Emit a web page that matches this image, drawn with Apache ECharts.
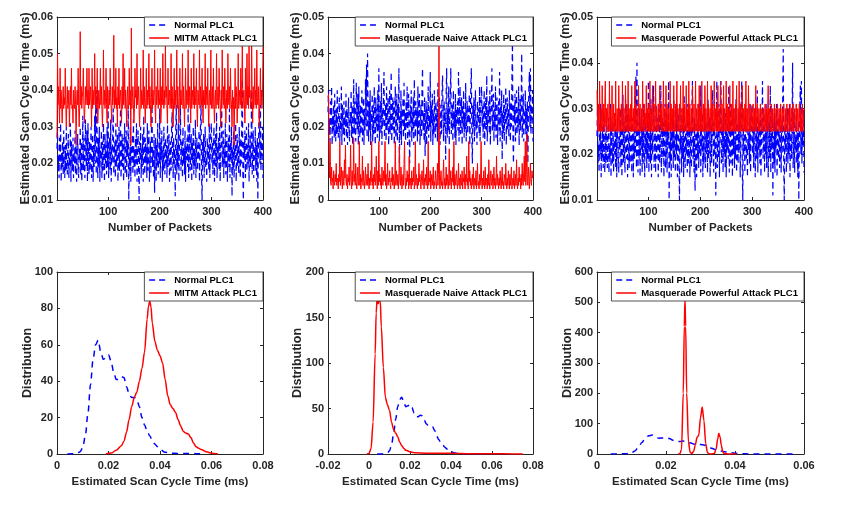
<!DOCTYPE html>
<html><head><meta charset="utf-8">
<script src="https://cdn.jsdelivr.net/npm/echarts@6/dist/echarts.min.js"></script>
<style>html,body{margin:0;padding:0;background:#fff}#c{width:844px;height:509px}</style>
</head><body><div id="c"></div>
<script>
// ---------- DATA (scan cycle times in microseconds, packet index 1..400) ----------
const normalUs = [
24,30,18,22,16,27,20,31,15,23,19,26,17,29,21,16,25,18,30,20,
17,24,28,16,22,19,31,15,26,21,18,27,16,23,20,29,17,25,15,22,
28,19,16,24,21,30,17,26,15,22,33,18,27,20,16,32,23,19,29,15,
31,21,17,26,18,24,30,16,22,28,15,25,19,33,20,37,17,40,23,16,
27,19,30,15,24,21,29,16,26,18,31,22,15,28,20,25,17,30,19,36,
16,23,27,18,32,15,25,20,29,35,17,22,26,16,31,19,24,28,15,21,
30,18,25,35,16,22,28,19,27,15,24,31,17,20,29,16,26,22,36,10,
23,18,30,15,25,21,28,17,32,19,24,16,27,20,31,15,22,29,18,10,
26,21,30,16,24,19,28,15,33,22,17,27,20,25,16,31,18,23,29,15,
21,26,17,30,36,19,24,16,28,12,22,27,15,25,19,31,17,23,20,35,
16,26,21,29,15,24,18,30,22,17,27,20,25,16,32,19,23,28,15,21,
26,18,30,34,22,16,27,20,24,11,29,36,17,25,19,31,15,23,28,36,
18,22,26,16,30,20,24,17,29,15,25,21,27,19,35,16,23,31,18,22,
28,15,26,20,30,17,24,19,32,16,22,27,18,25,21,29,15,23,31,36,
17,10,26,20,28,16,24,30,19,22,15,27,21,25,18,31,16,23,29,31,
20,26,17,24,30,15,22,28,19,34,16,25,21,27,18,30,15,23,26,36,
19,22,29,16,25,20,31,17,24,28,15,22,27,19,35,16,26,21,30,11,
24,18,29,16,26,21,31,15,23,28,19,25,17,30,22,16,27,20,33,43,
17,10,26,21,29,16,24,30,18,25,20,31,15,23,28,19,26,40,17,22,
29,16,24,21,30,18,25,15,27,10,23,31,35,20,36,18,26,22,30,16];

const mitmUs = [
27,50,36,41,36,31,46,35,40,36,31,36,41,35,38,36,46,36,30,36,
41,35,36,40,30,36,41,36,46,35,36,31,40,36,35,41,36,25,36,40,
36,46,35,30,36,56,36,41,35,38,40,46,36,31,35,41,36,38,46,36,
40,35,46,36,38,41,36,30,46,35,40,36,38,50,36,41,35,36,46,31,
36,40,35,38,46,36,41,35,30,36,51,36,40,35,38,46,36,31,41,36,
35,40,36,46,38,35,31,41,36,38,55,35,40,36,46,35,38,30,41,36,
46,35,38,40,36,31,41,35,50,36,38,46,35,40,36,30,38,41,35,36,
46,36,40,25,57,35,38,41,36,31,35,46,38,40,35,50,36,38,41,35,
30,36,46,35,40,38,36,51,35,41,36,31,38,46,35,40,36,38,50,35,
41,36,30,38,46,35,40,36,38,51,35,31,41,36,38,46,35,40,36,38,
46,31,35,41,36,50,38,35,40,36,53,38,41,35,31,46,36,38,40,35,
38,50,35,41,36,30,38,46,35,40,36,38,51,35,41,36,31,38,46,35,
40,36,38,50,35,41,36,30,38,46,35,40,36,38,51,35,36,41,38,31,
46,35,40,38,36,50,35,41,38,36,46,35,30,40,38,36,51,35,41,38,
36,46,35,31,40,38,36,50,35,41,38,36,46,35,30,38,40,36,51,35,
38,41,35,46,36,31,38,40,35,50,36,38,41,35,46,38,36,30,40,35,
51,38,36,41,35,46,38,31,36,40,35,50,38,36,41,35,46,38,36,30,
40,35,38,25,36,46,35,41,38,31,36,50,35,40,38,36,46,35,41,55,
35,38,40,36,31,46,35,38,50,36,41,35,52,38,40,35,36,55,38,31,
41,35,38,46,36,40,35,51,38,36,41,35,30,38,46,36,40,35,38,52];

const naiveUs = [
28,29,15,6,16,5,4,9,5,6,3,8,5,4,7,5,10,4,6,5,
3,7,5,16,4,6,9,5,3,8,5,4,11,6,15,5,4,7,3,6,
5,9,4,6,15,5,3,8,4,6,17,5,7,4,10,5,3,6,9,4,
5,16,4,7,3,6,5,12,4,8,5,3,6,9,4,5,7,4,10,5,
3,6,4,8,5,16,4,6,3,7,5,9,4,6,12,5,3,8,4,16,
5,7,4,6,3,9,5,4,8,5,6,16,4,7,3,5,10,4,6,5,
8,4,3,6,5,9,4,7,5,3,6,16,4,8,5,4,7,3,6,15,
5,4,9,6,3,5,7,4,10,16,5,3,6,4,8,5,7,3,12,4,
6,5,3,8,4,6,5,9,3,5,16,4,7,5,3,6,4,10,5,7,
4,3,6,8,5,4,11,3,6,5,7,4,9,5,3,16,4,6,5,8,
3,5,7,4,6,9,3,5,4,8,6,3,5,10,4,7,42,5,3,6,
8,4,5,3,7,11,4,6,3,5,9,4,7,5,3,6,14,4,5,8,
3,6,5,9,4,16,3,7,5,4,8,6,3,5,10,4,6,3,7,5,
4,8,3,6,5,9,4,3,7,5,12,4,6,3,16,5,8,4,6,3,
5,7,4,9,3,6,5,4,8,3,6,10,4,5,3,7,4,6,16,5,
3,6,4,8,5,3,9,4,6,5,3,7,4,11,5,3,6,8,4,5,
7,3,5,9,4,6,3,5,12,4,7,5,3,6,4,8,5,3,6,9,
4,5,3,7,6,4,10,5,3,6,4,8,5,3,7,4,6,9,3,5,
6,4,8,3,5,7,4,11,5,3,6,4,9,5,6,3,7,4,10,5,
4,8,12,5,16,4,7,18,5,4,9,6,3,7,10,5,4,8,6,7];

const powerfulUs = [
34,26,25,31,25,36,26,25,30,25,35,25,26,31,25,25,36,26,30,25,
25,31,26,25,36,25,30,26,25,35,25,26,31,25,29,25,36,26,25,30,
25,26,35,25,30,26,25,31,25,36,26,25,30,25,26,35,25,31,26,25,
36,25,30,26,25,31,25,35,26,25,30,25,26,36,25,31,26,25,30,25,
35,26,25,31,25,26,30,25,36,26,25,31,25,29,26,35,25,30,26,25,
31,25,36,26,25,30,25,35,26,25,31,25,26,36,25,30,26,25,31,25,
25,35,26,30,25,31,25,26,36,25,30,26,25,35,25,31,26,25,30,25,
26,36,25,31,25,26,30,25,35,26,25,31,25,29,36,25,30,26,25,31,
25,35,26,25,30,25,36,26,25,31,25,26,35,25,30,26,25,36,25,31,
26,25,30,25,35,26,25,31,25,26,36,25,30,26,25,31,25,35,26,25,
30,25,36,26,25,31,25,26,35,25,30,26,25,36,25,31,26,25,30,25,
35,26,25,31,25,26,36,25,30,26,25,31,25,35,26,25,30,25,36,26,
25,31,25,26,35,25,30,26,25,36,25,31,26,25,30,25,35,26,25,31,
25,26,36,25,30,26,25,31,25,35,26,25,30,25,36,26,25,31,25,26,
35,25,30,26,25,31,25,36,26,25,30,25,35,26,25,31,25,26,30,25,
25,31,25,26,30,25,35,25,25,31,26,25,30,25,25,31,25,26,30,25,
25,30,25,25,31,26,25,30,25,25,35,25,25,30,26,25,31,25,25,30,
25,25,31,25,26,30,25,25,31,25,25,30,26,25,31,25,25,30,25,25,
31,25,26,30,25,25,31,25,25,30,25,26,31,25,25,30,25,25,31,25,
25,30,26,25,31,25,25,30,25,25,31,26,25,30,25,25,31,25,25,30];

// Estimated densities (x in ms)
const normalPdfX = [0.004,0.006,0.008,0.009,0.010,0.011,0.012,0.013,0.014,0.015,0.016,0.017,0.018,0.019,0.020,0.021,0.022,0.023,0.024,0.025,0.026,0.027,0.028,0.029,0.030,0.031,0.032,0.033,0.034,0.035,0.036,0.037,0.038,0.039,0.040,0.042,0.044,0.047,0.050,0.054,0.057];
const normalPdfY = [0,0.1,0.6,1.3,3.5,10,22,38,52,60,62.5,56,52,53,54.5,51,45,41,41,42.5,42,37,33,31,31,30,26,20,16,12.5,10,7.5,5.5,4,2.5,1,0.4,0.3,0.3,0.2,0];

const mitmPdfX = [0.019,0.021,0.023,0.025,0.026,0.027,0.028,0.029,0.030,0.031,0.032,0.033,0.034,0.035,0.0355,0.036,0.0365,0.037,0.038,0.039,0.040,0.041,0.042,0.043,0.044,0.045,0.046,0.047,0.048,0.049,0.050,0.051,0.052,0.053,0.054,0.055,0.056,0.058,0.060,0.0625];
const mitmPdfY = [0,0.5,2,4.5,7,12,19,26,31,34,40,47,56,74,81,84,81,72,62,57,54,50,41,32,27,25,23,19,15.5,12.5,11.5,11,9,6,4,3.2,2.5,1.2,0.4,0];

const naivePdfX = [-0.001,0,0.001,0.002,0.003,0.0035,0.004,0.0045,0.005,0.0055,0.006,0.007,0.008,0.009,0.010,0.011,0.012,0.013,0.014,0.015,0.016,0.017,0.018,0.020,0.022,0.025,0.030,0.035,0.040,0.045,0.050,0.060,0.070,0.075];
const naivePdfY = [0,0.5,6,35,110,155,172,165,170,168,140,95,62,54,48,35,27,23,19,13,9,6,4,2.5,1.5,1,0.8,0.8,0.7,0.5,0.3,0.2,0.1,0];

const powerfulPdfX = [0.0235,0.024,0.0245,0.025,0.0253,0.0255,0.0257,0.026,0.0265,0.027,0.0275,0.028,0.0285,0.029,0.0295,0.030,0.0305,0.031,0.0315,0.032,0.0325,0.033,0.034,0.0345,0.035,0.0353,0.0357,0.036,0.0365,0.037,0.038,0.0405];
const powerfulPdfY = [0,0.5,15,200,420,510,420,200,40,5,2,8,30,55,62,120,155,110,35,5,0.5,0,2,15,50,68,55,30,6,1,0.3,0];

const normalName = 'Normal PLC1';
const attackNames = ['MITM Attack PLC1', 'Masquerade Naive Attack PLC1', 'Masquerade Powerful Attack PLC1'];
const packetTicks = [100, 200, 300, 400];

// ---------- LAYOUT / STYLE ----------
const FONT = "'Liberation Sans', Arial, Helvetica, sans-serif";
const TXT = '#262626';
const BLUE = '#0000ff', RED = '#ff0000';
const W = 844;
const panels = [
  {left: 57,  top: 17,  width: 206, height: 183},
  {left: 328, top: 17,  width: 205, height: 183},
  {left: 597, top: 17,  width: 207, height: 183},
  {left: 57,  top: 272, width: 206, height: 182},
  {left: 328, top: 272, width: 205, height: 182},
  {left: 597, top: 272, width: 207, height: 182}
];
const yRanges = [[0.01,0.06,0.01],[0,0.05,0.01],[0.01,0.05,0.01],[0,100,20],[0,200,50],[0,600,100]];
const xRanges = [null,null,null,[0,0.08,0.02],[-0.02,0.08,0.02],[0,0.06,0.02]];
const yNameGaps = [25, 26, 25, 23, 24, 23];
const fmt = v => String(Number(v.toFixed(4)));

const grid = panels.map(p => ({left: p.left, top: p.top, width: p.width, height: p.height, containLabel: false}));
const lineAx = {show: true, onZero: false, lineStyle: {color: TXT, width: 1}};
const lblStyle = {color: TXT, fontFamily: FONT, fontWeight: 'bold', fontSize: 11};
const nameStyle = {color: TXT, fontFamily: FONT, fontWeight: 'bold'};

const xAxis = [], yAxis = [];
for (let i = 0; i < 6; i++) {
  const isTop = i < 3;
  const xr = xRanges[i];
  const xBase = isTop
    ? {type: 'value', min: 1, max: 400,
       axisLabel: Object.assign({customValues: packetTicks, margin: 6, formatter: fmt}, lblStyle),
       axisTick: {inside: true, length: 3, customValues: packetTicks, lineStyle: {color: TXT}}}
    : {type: 'value', min: xr[0], max: xr[1], interval: xr[2],
       axisLabel: Object.assign({margin: 6, formatter: fmt, showMinLabel: true, showMaxLabel: true, hideOverlap: false}, lblStyle),
       axisTick: {inside: true, length: 3, lineStyle: {color: TXT}}};
  xAxis.push(Object.assign({}, xBase, {
    gridIndex: i, position: 'bottom',
    name: isTop ? 'Number of Packets' : 'Estimated Scan Cycle Time (ms)',
    nameLocation: 'middle', nameGap: 22,
    nameTextStyle: Object.assign({fontSize: 11.5}, nameStyle),
    axisLine: lineAx, splitLine: {show: false}
  }));
  const yr = yRanges[i];
  yAxis.push({
    type: 'value', gridIndex: i, position: 'left', min: yr[0], max: yr[1], interval: yr[2],
    name: isTop ? 'Estimated Scan Cycle Time (ms)' : 'Distribution',
    nameLocation: 'middle', nameGap: yNameGaps[i], nameRotate: 90, nameMoveOverlap: false,
    nameTextStyle: Object.assign({fontSize: 12.5}, nameStyle),
    axisLine: lineAx, splitLine: {show: false},
    axisTick: {inside: true, length: 3, lineStyle: {color: TXT}},
    axisLabel: Object.assign({margin: 4, formatter: fmt, showMinLabel: true, showMaxLabel: true}, lblStyle)
  });
}
// mirrored box axes (top / right) with inward ticks
for (let i = 0; i < 6; i++) {
  const isTop = i < 3;
  const xb = xAxis[i];
  xAxis.push({
    type: 'value', gridIndex: i, position: 'top', min: xb.min, max: xb.max, interval: xb.interval,
    axisLine: lineAx, splitLine: {show: false}, axisLabel: {show: false, customValues: isTop ? packetTicks : undefined},
    axisTick: isTop ? {inside: true, length: 3, customValues: packetTicks, lineStyle: {color: TXT}} : {inside: true, length: 3, lineStyle: {color: TXT}}
  });
  const yb = yAxis[i];
  yAxis.push({
    type: 'value', gridIndex: i, position: 'right', min: yb.min, max: yb.max, interval: yb.interval,
    axisLine: lineAx, splitLine: {show: false}, axisLabel: {show: false},
    axisTick: {inside: true, length: 3, lineStyle: {color: TXT}}
  });
}

const series = [];
const topAttack = [mitmUs, naiveUs, powerfulUs];
for (let k = 0; k < 3; k++) {
  series.push({
    type: 'line', name: normalName, xAxisIndex: k, yAxisIndex: k,
    data: normalUs.map((v, i) => [i + 1, v / 1000]),
    showSymbol: false, symbol: 'none', animation: false,
    lineStyle: {color: BLUE, width: 1.2, type: [6, 4]}, itemStyle: {color: BLUE}, z: 2
  });
  series.push({
    type: 'line', name: attackNames[k], xAxisIndex: k, yAxisIndex: k,
    data: topAttack[k].map((v, i) => [i + 1, v / 1000]),
    showSymbol: false, symbol: 'none', animation: false,
    lineStyle: {color: RED, width: 1}, itemStyle: {color: RED}, z: 3
  });
}
const pdfAttack = [[mitmPdfX, mitmPdfY], [naivePdfX, naivePdfY], [powerfulPdfX, powerfulPdfY]];
for (let k = 0; k < 3; k++) {
  const g = k + 3;
  series.push({
    type: 'line', name: normalName, xAxisIndex: g, yAxisIndex: g,
    data: normalPdfX.map((x, i) => [x, normalPdfY[i]]),
    showSymbol: false, symbol: 'none', smooth: 0.3, smoothMonotone: 'x', animation: false,
    lineStyle: {color: BLUE, width: 1.5, type: [6, 5]}, itemStyle: {color: BLUE}, z: 2
  });
  series.push({
    type: 'line', name: attackNames[k], xAxisIndex: g, yAxisIndex: g,
    data: pdfAttack[k][0].map((x, i) => [x, pdfAttack[k][1][i]]),
    showSymbol: false, symbol: 'none', smooth: 0.3, smoothMonotone: 'x', animation: false,
    lineStyle: {color: RED, width: 1.5}, itemStyle: {color: RED}, z: 3
  });
}

const legend = panels.map((p, i) => ({
  show: true, orient: 'vertical', right: W - (p.left + p.width), top: p.top,
  data: [normalName, attackNames[i % 3]],
  backgroundColor: '#fff', borderColor: '#262626', borderWidth: 0.8,
  padding: [2, 6, 2, 4], itemGap: 1, itemWidth: 20, itemHeight: 10,
  itemStyle: {opacity: 0},
  lineStyle: {width: 1.5},
  textStyle: {fontFamily: FONT, fontWeight: 'bold', fontSize: 9.5, color: '#000', lineHeight: 12},
  selectedMode: false
}));

const chart = echarts.init(document.getElementById('c'), null, {renderer: 'canvas'});
chart.setOption({
  animation: false, backgroundColor: '#fff',
  textStyle: {fontFamily: FONT},
  grid, xAxis, yAxis, series, legend
});
</script></body></html>
